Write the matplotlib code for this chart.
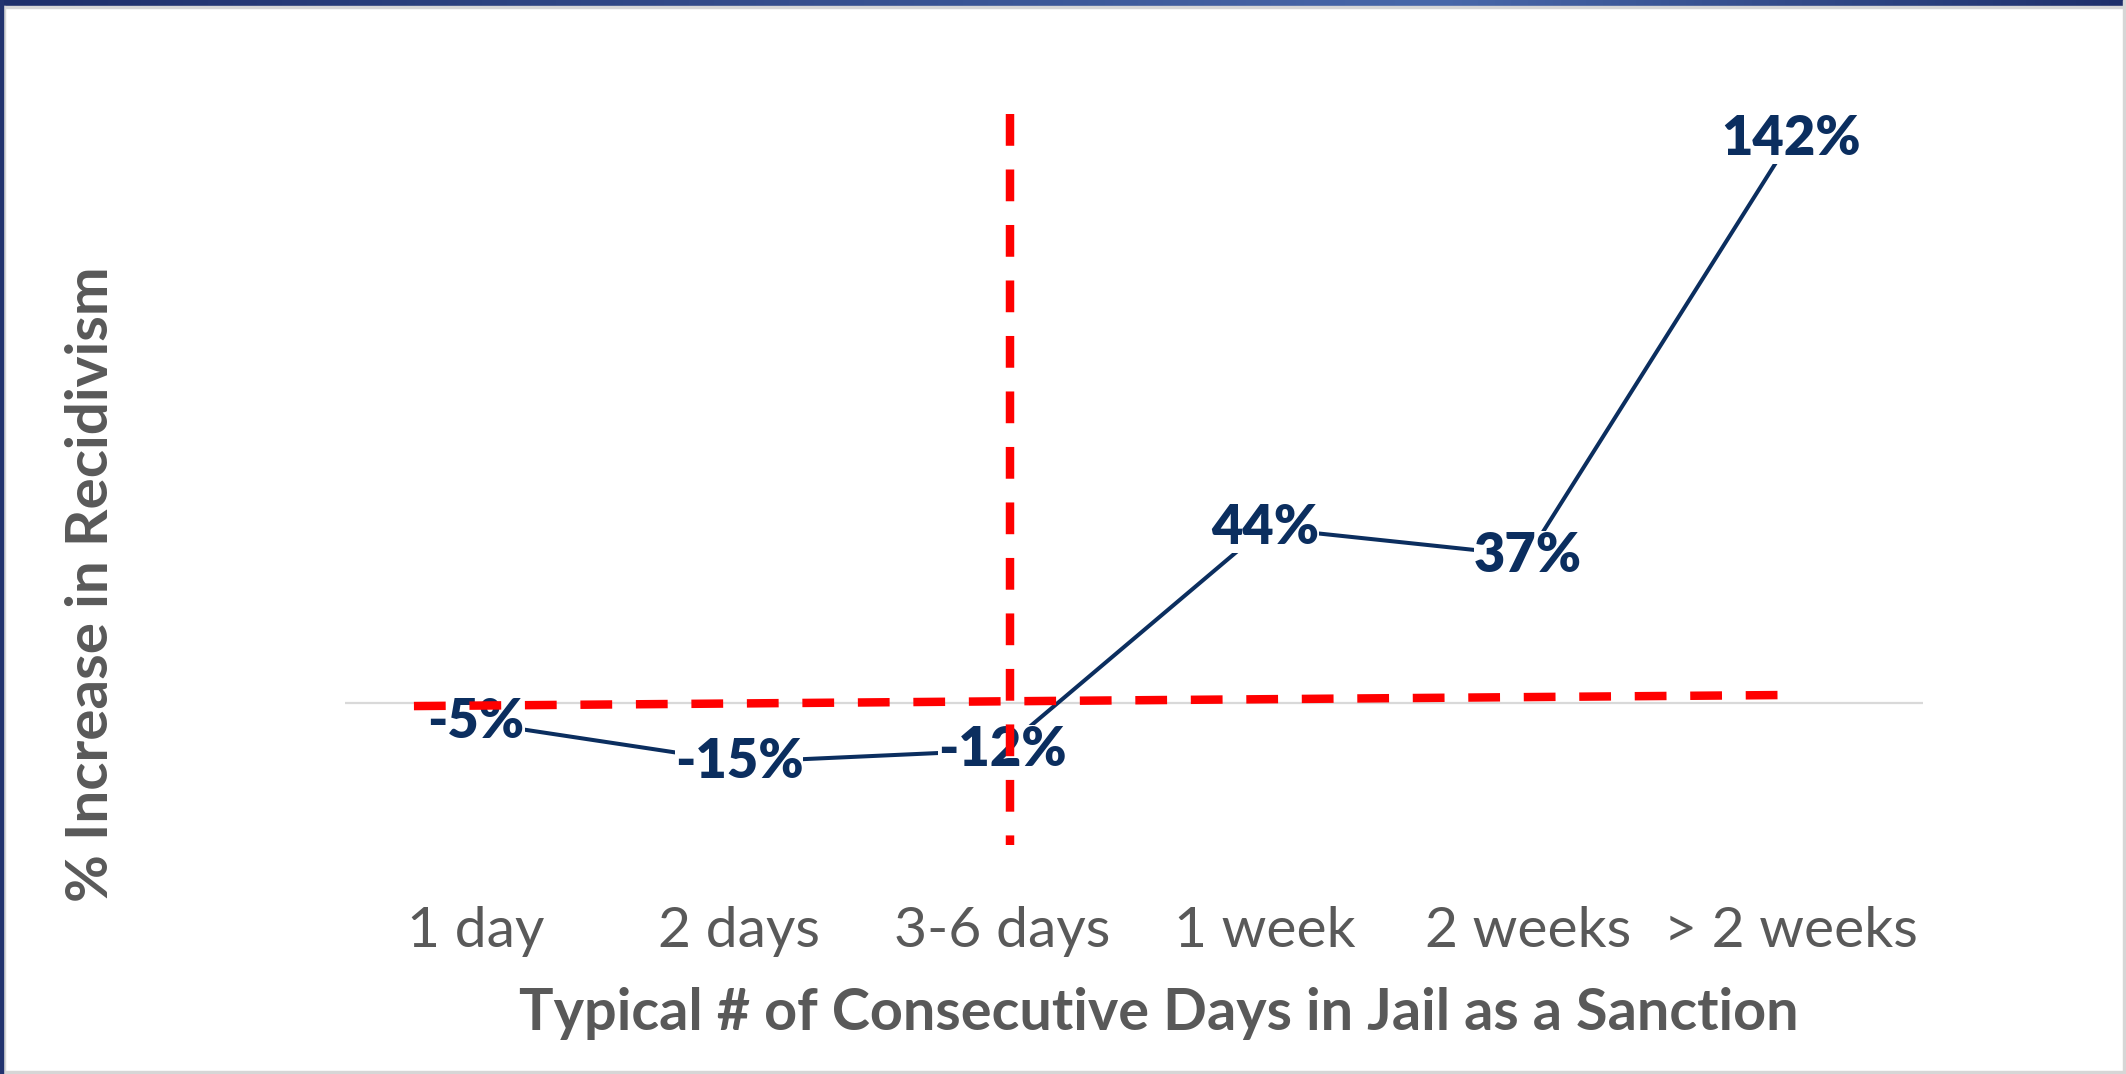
import matplotlib
matplotlib.use('Agg')
import matplotlib.pyplot as plt
import numpy as np
from matplotlib.colors import LinearSegmentedColormap
from matplotlib.patches import Rectangle

plt.rcParams['font.family'] = ['Lato', 'DejaVu Sans']

# 数据
categories = ['1 day', '2 days', '3-6 days', '1 week', '2 weeks', '> 2 weeks']
increase = [-5, -15, -12, 44, 37, 142]

# 红色虚线（阈值标注）
thresh_h_x = [-0.236, 5.0]
thresh_h_y = [-0.9, 1.9]
thresh_v_x = [2.03, 2.03]
thresh_v_y = [148.2, -35.9]

navy = '#0B2E5F'
gray_txt = '#595959'

W, H = 2126, 1074
fig = plt.figure(figsize=(W / 100, H / 100), dpi=100)
fig.patch.set_facecolor('white')

ax = fig.add_axes([344.5 / W, 1 - 861.3 / H, 1578 / W, 794 / H])
x = np.arange(len(categories))

ax.axhline(0, color='#D9D9D9', lw=1.6, zorder=1)
ax.plot(x, increase, color=navy, lw=2.9, zorder=2, solid_capstyle='butt')

for xi, v in zip(x, increase):
    ax.text(xi, v, f'{v}%', ha='center', va='center', fontsize=39,
            fontweight='heavy', color=navy, zorder=3,
            bbox=dict(facecolor='white', edgecolor='none', pad=0))

ax.plot(thresh_h_x, thresh_h_y, color='#FF0000', lw=6.1, dashes=(3.75, 2.8),
        solid_capstyle='butt', dash_capstyle='butt', zorder=4)
ax.plot(thresh_v_x, thresh_v_y, color='#FF0000', lw=6.1, dashes=(3.75, 2.8),
        solid_capstyle='butt', dash_capstyle='butt', zorder=4)

ax.set_xlim(-0.5, len(categories) - 0.5)
ax.set_ylim(-40, 160)
ax.set_xticks(x)
ax.set_xticklabels(categories, fontsize=41, color=gray_txt, fontweight='normal')
ax.tick_params(axis='x', length=0, pad=32)
ax.set_yticks([])
for s in ax.spines.values():
    s.set_visible(False)

ax.set_xlabel('Typical # of Consecutive Days in Jail as a Sanction',
              fontsize=41.5, fontweight='bold', color=gray_txt)
ax.xaxis.set_label_coords(0.516, -0.158)
ax.set_ylabel('% Increase in Recidivism', fontsize=42, fontweight='bold',
              color=gray_txt)
ax.yaxis.set_label_coords(-0.1435, 0.349)

# 页面边框
bar = fig.add_axes([0, 1 - 6 / H, 1, 6 / H])
cmap = LinearSegmentedColormap.from_list(
    'band', [(0, '#1E2F6B'), (0.68, '#4868AA'), (1, '#1E2F6B')])
bar.imshow(np.linspace(0, 1, 512)[None, :], cmap=cmap, aspect='auto')
bar.axis('off')

fig.patches.append(Rectangle((0, 1 - 8 / H), 1, 2 / H, transform=fig.transFigure,
                             color='#D6D6D6', zorder=0))
fig.patches.append(Rectangle((0, 0), 3 / W, 1, transform=fig.transFigure,
                             color='#22336F', zorder=1))
fig.patches.append(Rectangle((3 / W, 0), 2 / W, 1 - 6 / H, transform=fig.transFigure,
                             color='#D6D6D6', zorder=0))
fig.patches.append(Rectangle((1 - 3 / W, 0), 3 / W, 1, transform=fig.transFigure,
                             color='#D6D6D6', zorder=0))
fig.patches.append(Rectangle((0, 0), 1, 3 / H, transform=fig.transFigure,
                             color='#D6D6D6', zorder=0))

fig.savefig('out.png', dpi=100, facecolor='white')
